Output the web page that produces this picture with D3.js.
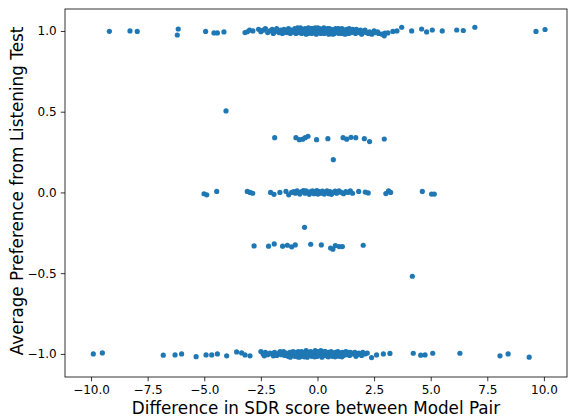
<!DOCTYPE html>
<html><head><meta charset="utf-8">
<script src="https://cdn.jsdelivr.net/npm/d3@7"></script>
<style>body{margin:0;background:#fff}svg{display:block}text{font-family:"DejaVu Sans",sans-serif}</style>
</head><body><svg id="c" width="568" height="418"></svg>
<script>
const xTicks = [-10, -7.5, -5, -2.5, 0, 2.5, 5, 7.5, 10];
const yTicks = [-1, -0.5, 0, 0.5, 1];
const xLabel = "Difference in SDR score between Model Pair";
const yLabel = "Average Preference from Listening Test";

// top row (preference ~ 1)
const topRow = [
[-9.19,0.998],[-8.28,1.0],[-7.96,0.997],[-6.15,1.012],[-6.19,0.975],[-4.94,0.997],[-4.57,0.988],[-4.42,0.988],[-4.13,0.994],
[-3.2,0.99],[-3.1,0.995],[-3.0,1.005],[-2.85,1.0],[-2.6,1.01],[-2.5,0.995],[-2.4,1.005],[-2.2,0.99],[-2.1,1.0],[-2.0,1.01],[-1.95,0.985],[-1.85,1.0],[-1.8,1.015],[-1.7,0.99],[-1.62,1.005],[-1.55,0.985],[-1.48,1.01],[-1.4,1.0],[-1.35,0.99],[-1.28,1.015],[-1.2,0.985],[-1.15,1.005],[-1.08,0.995],[-1.0,1.015],[-0.95,0.985],[-0.9,1.0],[-0.85,1.01],[-0.8,0.99],[-0.75,1.02],[-0.7,0.985],[-0.65,1.005],[-0.6,0.99],[-0.55,1.015],[-0.5,0.98],[-0.45,1.0],[-0.4,1.02],[-0.35,0.99],[-0.3,1.005],[-0.25,0.985],[-0.2,1.015],[-0.15,0.995],[-0.1,1.02],[-0.05,0.98],[0.0,1.005],[0.05,0.99],[0.1,1.015],[0.15,0.985],[0.2,1.0],[0.25,1.01],[0.3,0.985],[0.35,1.005],[0.4,0.99],[0.45,1.015],[0.5,0.98],[0.55,1.0],[0.6,1.01],[0.65,0.99],[0.7,1.005],[0.75,0.985],[0.8,1.015],[0.85,0.995],[0.9,1.0],[0.95,0.985],[1.0,1.01],[1.05,0.995],[1.1,0.985],[1.18,1.005],[1.25,0.99],[1.3,1.01],[1.38,0.985],[1.45,1.0],[1.5,0.99],[1.6,1.005],[1.68,0.985],[1.75,0.995],[1.85,0.99],[1.95,0.98],[2.05,0.995],[2.15,0.99],[2.25,0.985],[2.4,0.98],[2.55,0.99],[2.7,0.985],[2.85,0.98],[2.95,0.97],
[-2.3,1.015],[-1.9,0.995],[-1.5,0.99],[-1.25,1.0],[-1.0,0.99],[-0.88,1.02],[-0.72,1.0],[-0.58,0.995],[-0.42,0.985],[-0.28,1.015],[-0.12,0.99],[0.02,1.02],[0.12,0.995],[0.28,1.02],[0.38,1.01],[0.52,1.015],[0.68,0.98],[0.78,1.0],[0.92,1.015],[1.08,1.015],[1.22,0.98],[1.4,1.015],[1.55,1.01],[1.72,1.01],[1.9,1.005],[2.1,1.005],[2.3,0.995],[2.5,1.0],[2.65,0.995],
[2.98,0.986],[3.11,0.988],[3.33,0.997],[3.51,1.0],[3.72,1.023],[4.16,1.0],[4.6,1.012],[4.82,0.994],[5.07,1.006],[5.51,1.0],[6.15,1.006],[6.44,1.003],[6.95,1.023],[9.65,0.997],[10.05,1.009]
];

// middle levels
const midRows = [
[-4.04,0.505],
[-1.89,0.339],[-0.95,0.339],[-0.8,0.327],[-0.65,0.330],[-0.54,0.339],[-0.42,0.348],[-0.04,0.327],[0.46,0.333],[1.13,0.339],[1.29,0.330],[1.48,0.341],[1.69,0.339],[2.07,0.333],[2.3,0.315],[2.95,0.331],
[0.70,0.203],
[-0.57,-0.216],
[-2.8,-0.331],[-2.16,-0.333],[-1.91,-0.319],[-1.54,-0.333],[-1.33,-0.327],[-1.14,-0.337],[-0.98,-0.325],[-0.3,-0.321],[0.17,-0.325],[0.58,-0.344],[0.68,-0.352],[0.79,-0.329],[0.96,-0.335],[1.1,-0.335],[2.02,-0.327],
[4.19,-0.519]
];

// zero row
const zeroRow = [
[-5.01,-0.008],[-4.89,-0.015],[-4.45,0.006],[-3.1,0.006],[-2.98,0.0],[-2.86,-0.005],[-2.07,0.0],[-1.92,-0.012],[-1.66,0.0],[-1.39,0.006],[-1.27,-0.015],[-1.14,0.0],
[-1.05,0.005],[-0.98,-0.005],[-0.9,0.01],[-0.85,0.0],[-0.78,-0.01],[-0.7,0.005],[-0.62,0.012],[-0.55,-0.005],[-0.5,0.01],[-0.42,0.0],[-0.36,-0.012],[-0.3,0.005],[-0.22,0.01],[-0.15,-0.008],[-0.1,0.0],[-0.03,0.012],[0.02,-0.01],[0.08,0.005],[0.15,-0.005],[0.22,0.008],[0.3,-0.01],[0.35,0.0],[0.42,0.01],[0.5,-0.008],[0.55,0.005],[0.62,-0.012],[0.7,0.0],[0.78,0.008],[0.85,-0.005],[0.95,0.01],[1.05,0.0],[1.15,-0.008],[1.25,0.005],[1.35,0.0],[1.45,0.01],[1.55,-0.005],
[1.82,0.006],[2.11,0.002],[2.24,-0.003],[3.02,-0.007],[3.14,0.01],[3.23,0.0],[4.63,0.006],[5.04,-0.01],[5.16,-0.01]
];

// bottom row (preference ~ -1)
const bottomRow = [
[-9.9,-1.0],[-9.5,-0.994],[-6.81,-1.008],[-6.29,-1.006],[-6.0,-1.0],[-5.36,-1.017],[-4.92,-1.006],[-4.67,-1.006],[-4.42,-1.0],[-4.01,-1.012],[-3.57,-0.988],[-3.35,-0.994],[-3.2,-1.006],[-2.98,-1.012],
[-2.5,-0.985],[-2.4,-1.0],[-2.3,-0.99],[-2.2,-1.005],[-2.1,-0.995],[-2.0,-1.0],[-1.9,-0.99],[-1.8,-1.01],[-1.7,-0.995],[-1.6,-1.005],[-1.5,-0.985],[-1.45,-1.01],[-1.38,-0.995],[-1.3,-1.015],[-1.22,-0.99],[-1.15,-1.005],[-1.08,-0.985],[-1.0,-1.015],[-0.95,-0.995],[-0.9,-1.005],[-0.85,-0.985],[-0.8,-1.02],[-0.75,-1.0],[-0.7,-0.985],[-0.65,-1.015],[-0.6,-0.995],[-0.55,-1.005],[-0.5,-0.98],[-0.45,-1.02],[-0.4,-0.99],[-0.35,-1.005],[-0.3,-0.985],[-0.25,-1.015],[-0.2,-0.995],[-0.15,-1.01],[-0.1,-0.98],[-0.05,-1.0],[0.0,-1.015],[0.05,-0.99],[0.1,-1.005],[0.15,-0.98],[0.2,-1.02],[0.25,-0.995],[0.3,-1.01],[0.35,-0.985],[0.4,-1.0],[0.45,-1.015],[0.5,-0.99],[0.55,-1.005],[0.6,-0.985],[0.65,-1.015],[0.7,-0.995],[0.75,-1.01],[0.8,-0.99],[0.85,-1.005],[0.9,-0.985],[0.95,-1.015],[1.0,-0.995],[1.05,-1.005],[1.1,-0.99],[1.15,-1.01],[1.2,-0.995],[1.28,-1.005],[1.35,-0.99],[1.42,-1.01],[1.5,-0.995],[1.58,-1.0],[1.65,-0.99],[1.75,-1.005],[1.82,-0.995],[1.9,-1.0],[2.0,-0.99],[2.1,-1.0],[2.2,-0.995],
[-2.35,-1.012],[-1.95,-1.012],[-1.65,-0.985],[-1.2,-1.02],[-1.02,-0.99],[-0.88,-1.018],[-0.72,-0.99],[-0.58,-1.018],[-0.42,-1.0],[-0.28,-1.0],[-0.12,-1.018],[0.02,-0.985],[0.18,-1.005],[0.32,-0.985],[0.48,-1.018],[0.62,-1.0],[0.78,-1.018],[0.92,-1.0],[1.08,-1.018],[1.25,-0.985],[1.45,-0.99],[1.7,-1.015],[1.95,-1.01],
[2.39,-1.023],[2.61,-1.006],[2.91,-1.0],[3.2,-0.997],[4.23,-0.996],[4.56,-1.008],[4.75,-1.006],[5.09,-0.996],[6.29,-0.996],[8.06,-1.012],[8.42,-1.0],[9.35,-1.02]
];

const svg = d3.select("#c");
const L = 65, R = 567, T = 9, B = 377;
const x = d3.scaleLinear().domain([-11.15, 11.02]).range([L, R]);
const y = d3.scaleLinear().domain([-1.143, 1.136]).range([B, T]);

const pts = [].concat(topRow, midRows, zeroRow, bottomRow);
svg.append("g").selectAll("circle").data(pts).join("circle")
  .attr("cx", d => x(d[0])).attr("cy", d => y(d[1])).attr("r", 2.6)
  .attr("fill", "#1f77b4");

const fmt = d3.format(".1f");
const xa = svg.append("g").attr("transform", `translate(0,${B})`)
  .call(d3.axisBottom(x).tickValues(xTicks).tickFormat(fmt).tickSize(4.2).tickPadding(4.2));
const ya = svg.append("g").attr("transform", `translate(${L},0)`)
  .call(d3.axisLeft(y).tickValues(yTicks).tickFormat(fmt).tickSize(4.2).tickPadding(4.2));
[xa, ya].forEach(a => {
  a.select(".domain").remove();
  a.selectAll("line").attr("stroke", "#000").attr("stroke-width", 0.8);
  a.selectAll("text").attr("font-size", 12).attr("fill", "#000").attr("font-family", "DejaVu Sans");
});
svg.append("rect").attr("x", L).attr("y", T).attr("width", R - L).attr("height", B - T)
  .attr("fill", "none").attr("stroke", "#000").attr("stroke-width", 0.8);

svg.append("text").attr("x", (L + R) / 2).attr("y", 414).attr("text-anchor", "middle")
  .attr("font-size", 16.8).attr("fill", "#000").text(xLabel);
svg.append("text").attr("transform", `translate(23,191) rotate(-90)`)
  .attr("text-anchor", "middle").attr("font-size", 16.8).attr("fill", "#000").text(yLabel);
</script></body></html>
